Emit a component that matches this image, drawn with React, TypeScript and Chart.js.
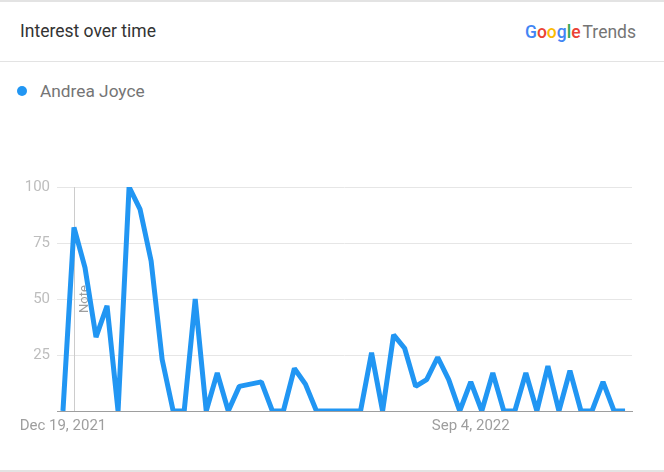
import React, { useEffect, useRef } from "react";
import { Chart, registerables } from "chart.js";

Chart.register(...registerables);

const seriesName = "Andrea Joyce";
const interest = [0, 82, 64, 33, 47, 0, 100, 90, 67, 23, 0, 0, 50, 0, 17, 0, 11, 12, 13, 0, 0, 19, 12, 0, 0, 0, 0, 0, 26, 0, 34, 28, 11, 14, 24, 14, 0, 13, 0, 17, 0, 0, 17, 0, 20, 0, 18, 0, 0, 13, 0, 0];
const weekIndex = interest.map((_, i) => i);
const xTickIndices = [0, 37];
const xTickLabels = ["Dec 19, 2021", "Sep 4, 2022"];
const yTicks = [25, 50, 75, 100];
const noteIndex = 1;
const noteText = "Note";

const BLUE = "#2196f3";
const FONT = "Roboto, 'Noto Sans', sans-serif";

const notePlugin = {
  id: "notePlugin",
  beforeDatasetsDraw(chart: any) {
    const { ctx, scales, chartArea } = chart;
    const x = Math.round(scales.x.getPixelForValue(noteIndex)) + 0.5;
    ctx.save();
    ctx.strokeStyle = "#cccccc";
    ctx.lineWidth = 1;
    ctx.beginPath();
    ctx.moveTo(x, chartArea.top);
    ctx.lineTo(x, chartArea.bottom);
    ctx.stroke();
    ctx.translate(x + 10, scales.y.getPixelForValue(50));
    ctx.rotate(-Math.PI / 2);
    ctx.fillStyle = "#9e9e9e";
    ctx.font = `13px ${FONT}`;
    ctx.textAlign = "center";
    ctx.textBaseline = "middle";
    ctx.fillText(noteText, 0, 0);
    ctx.restore();
  },
};

function TrendChart() {
  const ref = useRef<HTMLCanvasElement | null>(null);
  useEffect(() => {
    if (!ref.current) return;
    const chart = new Chart(ref.current, {
      type: "line",
      data: {
        datasets: [
          {
            label: seriesName,
            data: weekIndex.map((i) => ({ x: i, y: interest[i] })),
            borderColor: BLUE,
            borderWidth: 5,
            pointRadius: 0,
            tension: 0,
            borderJoinStyle: "bevel",
            fill: false,
          },
        ],
      },
      options: {
        animation: false,
        responsive: false,
        maintainAspectRatio: false,
        layout: { padding: { left: 0, right: 32, top: 10, bottom: 4 } },
        plugins: { legend: { display: false }, tooltip: { enabled: false } },
        scales: {
          x: {
            type: "linear",
            min: -0.54,
            max: 51.63,
            grid: { display: false, drawTicks: false },
            border: { display: true, color: "#9e9e9e", width: 1 },
            afterBuildTicks: (scale: any) => {
              scale.ticks = xTickIndices.map((v) => ({ value: v }));
            },
            ticks: {
              autoSkip: false,
              maxRotation: 0,
              padding: 6,
              color: "#9e9e9e",
              font: { family: FONT, size: 15 },
              callback: (v: any) => {
                const k = xTickIndices.indexOf(Number(v));
                return k >= 0 ? xTickLabels[k] : "";
              },
            },
          },
          y: {
            min: 0,
            max: 100,
            afterFit: (scale: any) => {
              scale.width = 57;
            },
            afterBuildTicks: (scale: any) => {
              scale.ticks = [0, ...yTicks].map((v) => ({ value: v }));
            },
            grid: {
              drawTicks: false,
              color: (c: any) => (c.tick && c.tick.value === 0 ? "rgba(0,0,0,0)" : "#e6e6e6"),
              lineWidth: 1,
            },
            border: { display: false },
            ticks: {
              padding: 7,
              color: "#bdbdbd",
              font: { family: FONT, size: 15 },
              callback: (v: any) => (Number(v) === 0 ? "" : String(v)),
            },
          },
        },
      },
      plugins: [notePlugin],
    } as any);
    return () => chart.destroy();
  }, []);
  return <canvas ref={ref} width={664} height={274} style={{ position: "absolute", left: 0, top: 171, width: 664, height: 274 }} />;
}

export default function App() {
  useEffect(() => {
    document.body.style.margin = "0";
  }, []);
  const googleLetters = [
    ["G", "#4285F4"],
    ["o", "#EA4335"],
    ["o", "#FBBC05"],
    ["g", "#4285F4"],
    ["l", "#34A853"],
    ["e", "#EA4335"],
  ];
  return (
    <div style={{ position: "relative", width: 664, height: 472, background: "#fff", fontFamily: FONT, overflow: "hidden" }}>
      <div style={{ position: "absolute", left: 0, top: 0, width: 664, height: 2, background: "#e3e3e3" }} />
      <div style={{ position: "absolute", left: 20, top: 20, fontSize: 17.5, color: "#333", lineHeight: "22px" }}>Interest over time</div>
      <div style={{ position: "absolute", left: 525, top: 21, fontSize: 17.5, lineHeight: "22px", whiteSpace: "nowrap" }}>
        <span style={{ fontWeight: 500 }}>
          {googleLetters.map(([ch, col], i) => (
            <span key={i} style={{ color: col }}>{ch}</span>
          ))}
        </span>
        <span style={{ color: "#757575", marginLeft: 2 }}>Trends</span>
      </div>
      <div style={{ position: "absolute", left: 0, top: 61, width: 664, height: 1, background: "#e3e3e3" }} />
      <div style={{ position: "absolute", left: 17, top: 86, width: 10, height: 10, borderRadius: 5, background: BLUE }} />
      <div style={{ position: "absolute", left: 40, top: 80, fontSize: 17.3, color: "#757575", lineHeight: "22px" }}>{seriesName}</div>
      <TrendChart />
      <div style={{ position: "absolute", left: 0, top: 470, width: 664, height: 2, background: "#e3e3e3" }} />
    </div>
  );
}
